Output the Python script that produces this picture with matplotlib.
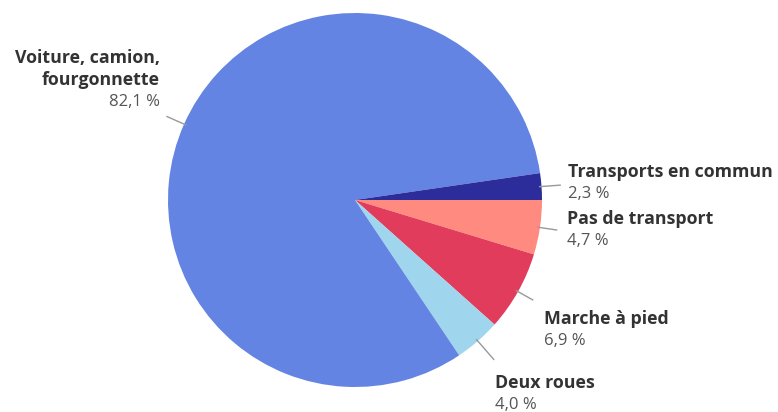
import matplotlib.pyplot as plt
import numpy as np

plt.rcParams['font.family'] = ['Open Sans', 'DejaVu Sans']

# parts of trips, listed clockwise starting from 3 o'clock
labels = ['Pas de transport', 'Marche à pied', 'Deux roues',
          'Voiture, camion,\nfourgonnette', 'Transports en commun']
values = [4.7, 6.9, 4.0, 82.1, 2.3]
colors = ['#ff8b80', '#e13c5c', '#9fd6ee', '#6384e2', '#2c2d9a']

# text placement next to each leader line: (dx, dy, ha), pixels
text_offsets = [(10, -11, 'left'), (11, -41, 'left'), (1, -46, 'left'),
                (-7, 15, 'right'), (8, -9, 'left')]
leader_len = [1.09, 1.09, 1.13, 1.1, 1.1]

W, H = 778, 412
top_cut = 15
fig = plt.figure(figsize=(W / 100, H / 100), dpi=100)
ax = fig.add_axes([0, 0, 1, (H - top_cut) / H])

cx, cy, r = 355, H - 200, 187
wedges, _ = ax.pie(values, colors=colors, startangle=0, counterclock=False,
                   center=(cx, cy), radius=r, frame=True,
                   wedgeprops=dict(linewidth=0))
ax.set_xlim(0, W)
ax.set_ylim(0, H - top_cut)
ax.set_aspect('equal')
ax.axis('off')

line_h = 22
for w, lab, v, (dx, dy, ha), k in zip(wedges, labels, values, text_offsets, leader_len):
    ang = np.deg2rad((w.theta1 + w.theta2) / 2)
    x0, y0 = cx + r * 0.99 * np.cos(ang), cy + r * 0.99 * np.sin(ang)
    x1, y1 = cx + r * k * np.cos(ang), cy + r * k * np.sin(ang)
    ax.plot([x0, x1], [y0, y1], color='#999999', lw=1, clip_on=False)
    tx = x1 + dx
    py = y1 + dy
    ax.text(tx, py, f'{v:.1f} %'.replace('.', ','), ha=ha, va='center',
            fontsize=12, color='#555555', clip_on=False)
    name_lines = lab.split('\n')
    for i, nl in enumerate(reversed(name_lines)):
        ax.text(tx, py + line_h * (i + 1), nl, ha=ha, va='center',
                fontsize=12.8, fontweight='bold', color='#333333', clip_on=False)

fig.savefig('out.png', dpi=100)
